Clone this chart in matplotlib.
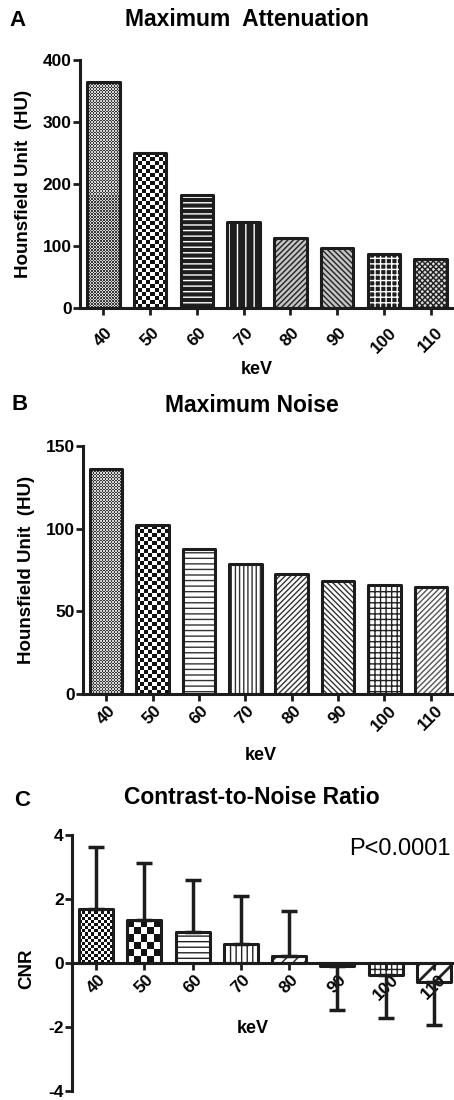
import numpy as np
import matplotlib
matplotlib.use('Agg')
import matplotlib.pyplot as plt
from matplotlib.colors import ListedColormap

KEV = ['40', '50', '60', '70', '80', '90', '100', '110']
ATTENUATION = [364, 250, 182, 139, 113, 97, 87, 79]
NOISE = [136, 102, 88, 78.5, 72.5, 68.5, 66, 64.5]
CNR = [1.69, 1.34, 0.97, 0.59, 0.22, -0.10, -0.37, -0.60]
CNR_SD = [1.93, 1.78, 1.63, 1.50, 1.41, 1.37, 1.35, 1.34]

EDGE = '#1c1c1c'

plt.rcParams.update({
    'font.family': ['Liberation Sans', 'DejaVu Sans'],
    'font.weight': 'bold',
    'axes.labelweight': 'bold',
    'axes.unicode_minus': False,
    'hatch.linewidth': 1.0,
})

# fill styles per bar (pattern, foreground, background)
STYLE_A = [
    dict(cell=1.5, fg='#3a3a3a', bg='#d4d4d4'),
    dict(cell=4, fg='#111111', bg='white'),
    dict(hatch='---', fg='white', bg='#1e1e1e'),
    dict(hatch='||', fg='white', bg='#1e1e1e'),
    dict(hatch='//////', fg='#222222', bg='#c4c4c4'),
    dict(hatch='\\\\\\\\\\\\', fg='#222222', bg='#c4c4c4'),
    dict(hatch='+++', fg='white', bg='#1e1e1e'),
    dict(hatch='xxxxxx', fg='#222222', bg='#d8d8d8'),
]
STYLE_B = [
    dict(cell=1.5, fg='#3a3a3a', bg='#d4d4d4'),
    dict(cell=4, fg='#111111', bg='white'),
    dict(hatch='---', fg='#333333', bg='white'),
    dict(hatch='||||', fg='#333333', bg='white'),
    dict(hatch='//////', fg='#333333', bg='white'),
    dict(hatch='\\\\\\\\\\\\', fg='#333333', bg='white'),
    dict(hatch='+++', fg='#222222', bg='white'),
    dict(hatch='//////', fg='#555555', bg='white'),
]
STYLE_C = [
    dict(cell=3, fg='#111111', bg='white'),
    dict(cell=6.8, fg='#111111', bg='white'),
    dict(hatch='---', fg='#222222', bg='white'),
    dict(hatch='|||', fg='#222222', bg='white'),
    dict(hatch='///', fg='#222222', bg='white'),
    dict(hatch='', fg='#222222', bg='#222222'),
    dict(hatch='+++', fg='#222222', bg='white'),
    dict(hatch='//', fg='#222222', bg='white', hlw=2.0),
]


def checker_fill(ax, bar, cell, fg, bg):
    ext = bar.get_window_extent()
    nx = max(1, int(round(ext.width / cell)))
    ny = max(1, int(round(abs(ext.height) / cell)))
    grid = np.add.outer(np.arange(ny), np.arange(nx)) % 2
    x0 = bar.get_x()
    x1 = x0 + bar.get_width()
    y0 = bar.get_y()
    y1 = y0 + bar.get_height()
    im = ax.imshow(grid, cmap=ListedColormap([bg, fg]), origin='lower',
                   extent=(x0, x1, min(y0, y1), max(y0, y1)),
                   interpolation='nearest', aspect='auto', zorder=1.1)
    im.set_clip_path(bar)


def draw_bars(ax, values, styles, ylim):
    x = np.arange(len(values))
    ax.set_xlim(-0.5, 7.5)
    ax.set_ylim(*ylim)
    fills = ax.bar(x, values, width=0.7, color='white', linewidth=0, zorder=1)
    for b, st in zip(fills, styles):
        b.set_facecolor(st['bg'])
        if 'hatch' in st:
            b.set_hatch(st['hatch'])
            b.set_edgecolor(st['fg'])
            try:
                b.set_hatch_linewidth(st.get('hlw', 1.0))
            except AttributeError:
                pass
        else:
            checker_fill(ax, b, st['cell'], st['fg'], st['bg'])
    ax.bar(x, values, width=0.7, fill=False, edgecolor=EDGE, linewidth=2.2,
           joinstyle='round', zorder=1.2)
    ax.set_xlim(-0.5, 7.5)
    ax.set_ylim(*ylim)


def style_axes(ax, xpad):
    for s in ['top', 'right']:
        ax.spines[s].set_visible(False)
    for s in ['left', 'bottom']:
        ax.spines[s].set_linewidth(2.2)
        ax.spines[s].set_color(EDGE)
    ax.tick_params(axis='both', width=2, length=5, color=EDGE, labelsize=12.5)
    ax.tick_params(axis='y', pad=1)
    ax.tick_params(axis='x', pad=xpad)
    ax.set_xticks(range(len(KEV)))
    ax.set_xticklabels(KEV, rotation=45, ha='center', fontweight='bold')
    for lab in ax.get_yticklabels():
        lab.set_fontweight('bold')


fig = plt.figure(figsize=(4.54, 11), dpi=100)

# ---- A
axA = fig.add_axes([80 / 454, 1 - 308 / 1100, 374 / 454, 248 / 1100])
draw_bars(axA, ATTENUATION, STYLE_A, (0, 400))
axA.set_yticks([0, 100, 200, 300, 400])
style_axes(axA, 7)
axA.set_ylabel('Hounsfield Unit  (HU)', fontsize=13.5, va='center')
axA.yaxis.set_label_coords(-0.15, 0.5)
axA.set_xlabel('keV', fontsize=13, va='center')
axA.xaxis.set_label_coords(0.473, -0.246)
fig.text(247 / 454, 1 - 20 / 1100, 'Maximum  Attenuation', fontsize=16.5,
         ha='center', va='center')
fig.text(18 / 454, 1 - 21 / 1100, 'A', fontsize=16, ha='center', va='center')

# ---- B
axB = fig.add_axes([83 / 454, 1 - 694 / 1100, 371 / 454, 248 / 1100])
draw_bars(axB, NOISE, STYLE_B, (0, 150))
axB.set_yticks([0, 50, 100, 150])
style_axes(axB, 1.5)
axB.set_ylabel('Hounsfield Unit  (HU)', fontsize=13.5, va='center')
axB.yaxis.set_label_coords(-0.151, 0.5)
axB.set_xlabel('keV', fontsize=13, va='center')
axB.xaxis.set_label_coords(0.48, -0.246)
fig.text(252 / 454, 1 - 406 / 1100, 'Maximum Noise', fontsize=16.5,
         ha='center', va='center')
fig.text(20 / 454, 1 - 405 / 1100, 'B', fontsize=16, ha='center', va='center')

# ---- C
axC = fig.add_axes([72 / 454, 1 - 1091 / 1100, 386 / 454, 256 / 1100])
draw_bars(axC, CNR, STYLE_C, (-4, 4))
cnr = np.array(CNR)
sd = np.array(CNR_SD)
lower = np.where(cnr < 0, sd, 0)
upper = np.where(cnr >= 0, sd, 0)
axC.errorbar(np.arange(len(CNR)), CNR, yerr=[lower, upper], fmt='none',
             ecolor=EDGE, elinewidth=2.5, capsize=6, capthick=2.5, zorder=2)
axC.set_xlim(-0.5, 7.5)
axC.set_ylim(-4, 4)
axC.spines['bottom'].set_position(('data', 0))
axC.set_yticks([-4, -2, 0, 2, 4])
style_axes(axC, 1.5)
axC.set_ylabel('CNR', fontsize=13.5, va='center')
axC.yaxis.set_label_coords(-0.117, 0.477)
axC.set_xlabel('keV', fontsize=13, va='center')
axC.xaxis.set_label_coords(0.469, 0.246)
axC.text(0.85, 0.945, 'P<0.0001', transform=axC.transAxes, fontsize=17,
         fontweight='normal', ha='center', va='center')
fig.text(252 / 454, 1 - 797 / 1100, 'Contrast-to-Noise Ratio', fontsize=16.5,
         ha='center', va='center')
fig.text(22 / 454, 1 - 801 / 1100, 'C', fontsize=16, ha='center', va='center')

fig.savefig('out.png', dpi=100)
